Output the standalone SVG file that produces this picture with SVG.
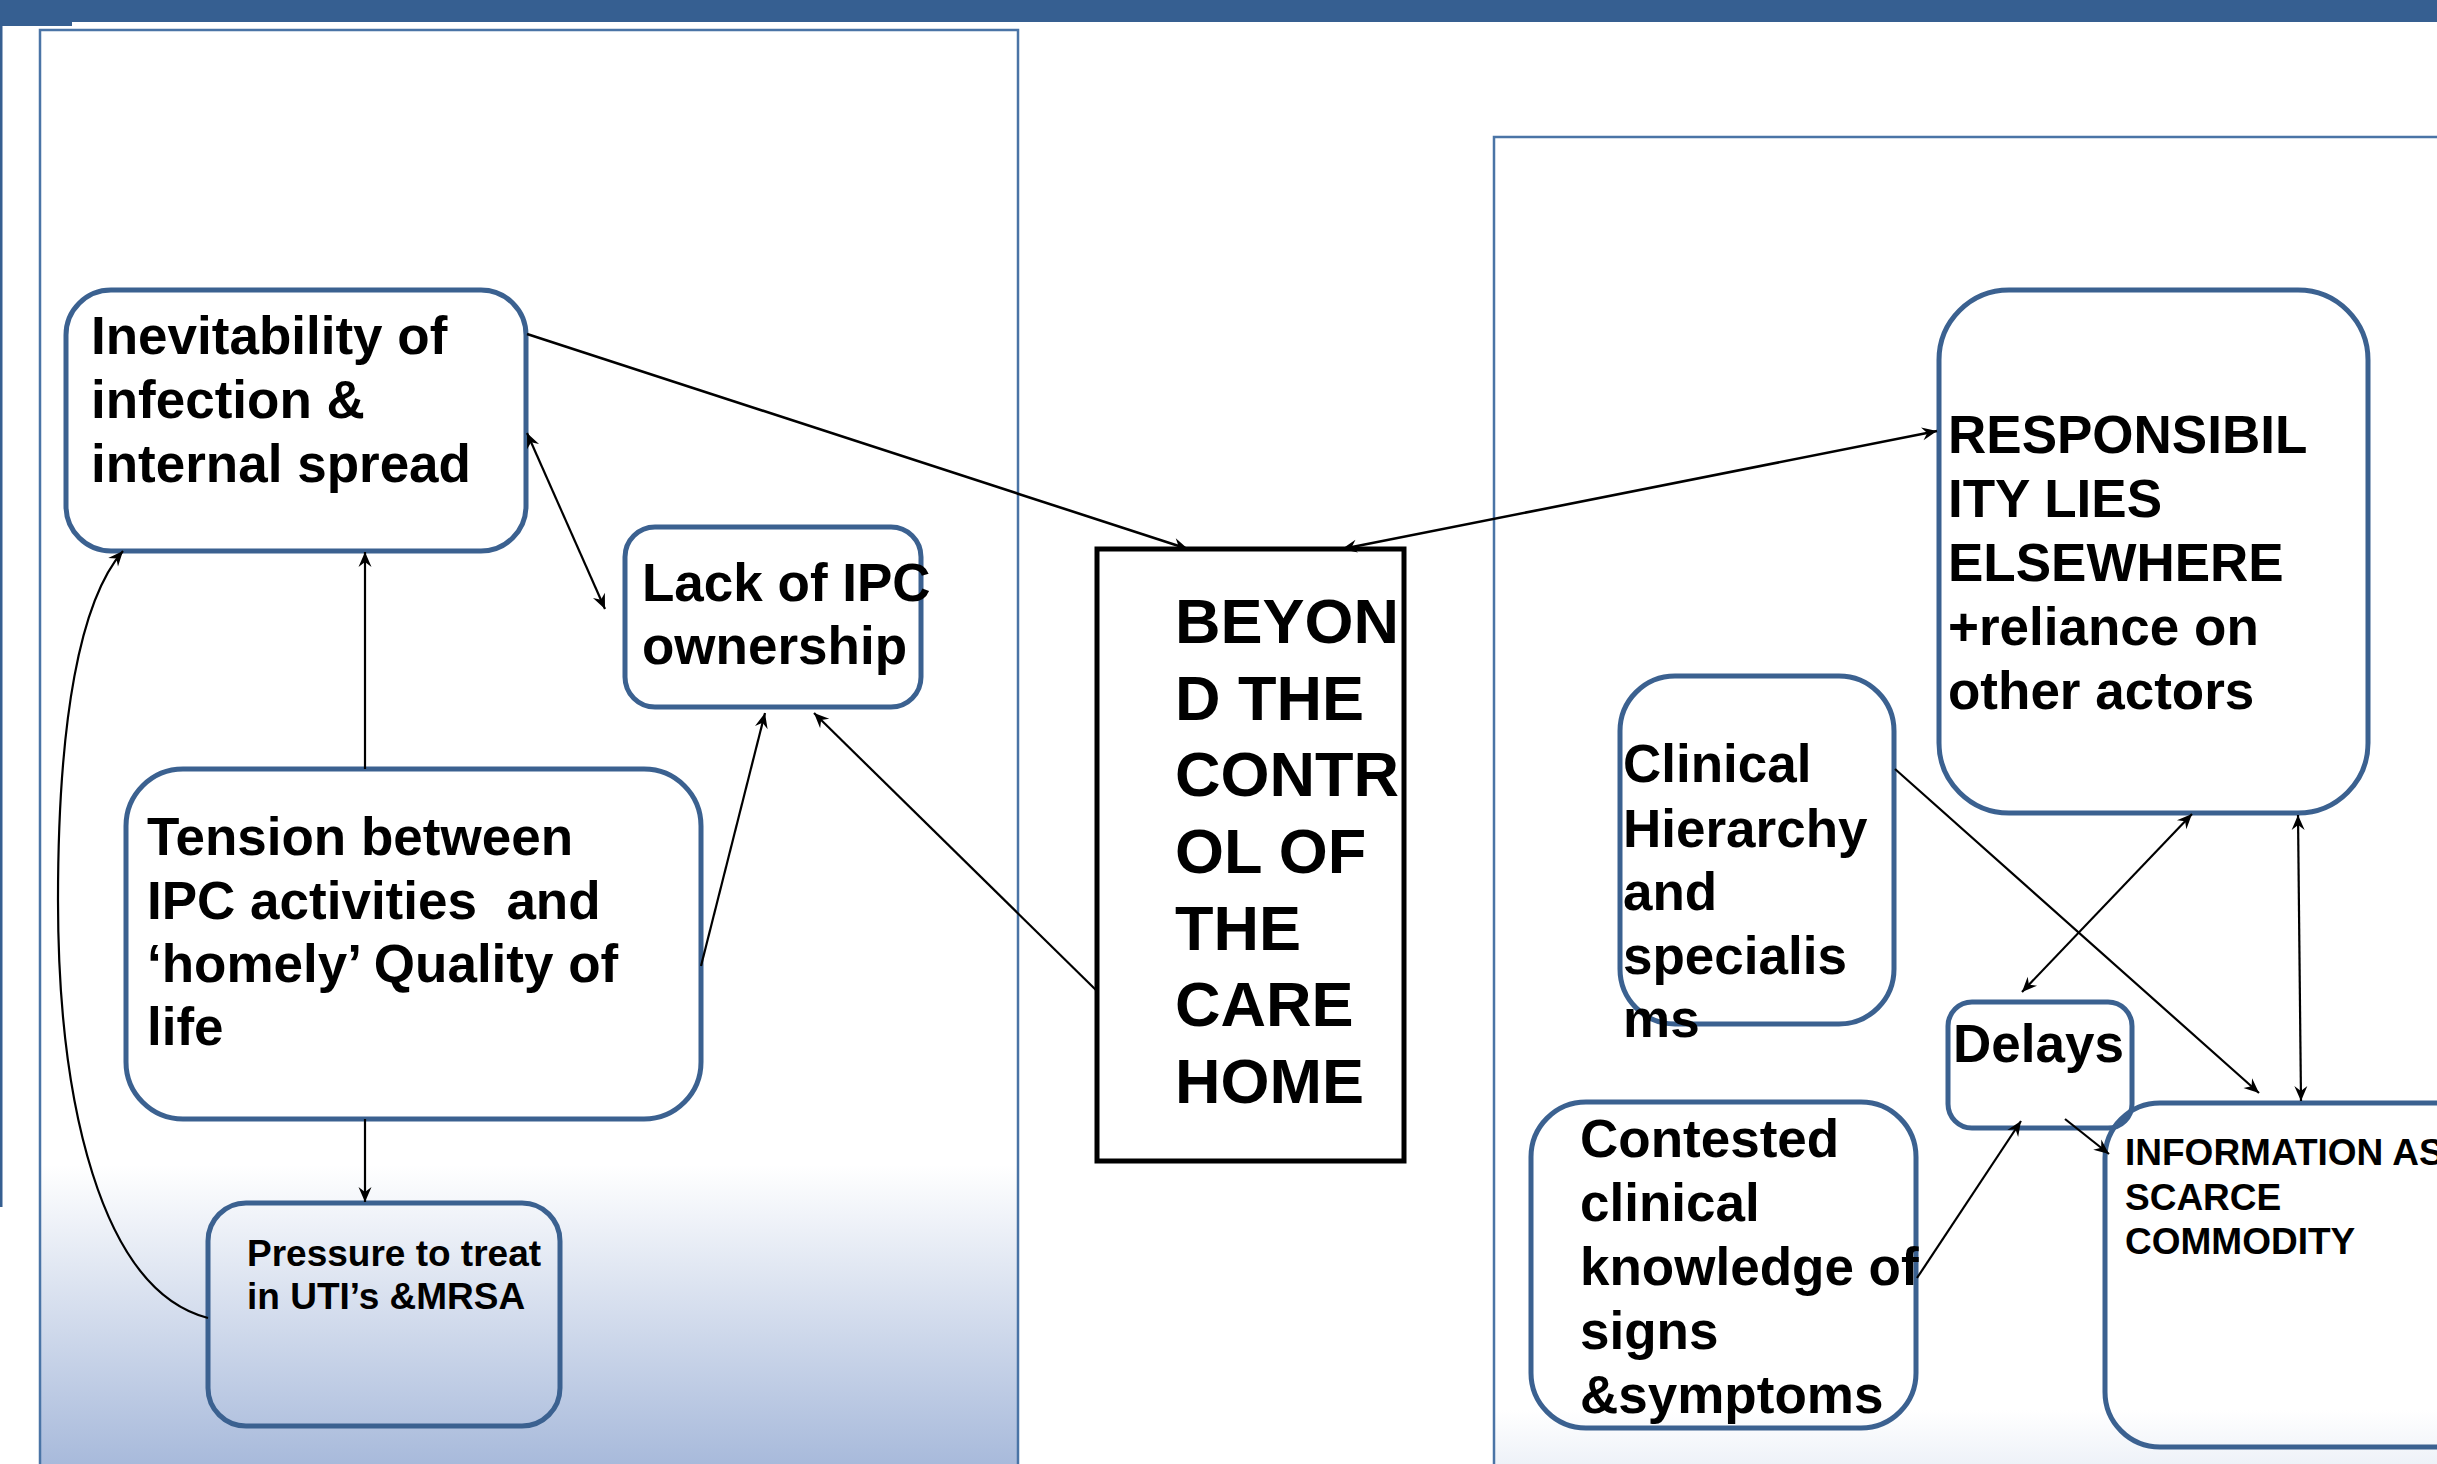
<svg xmlns="http://www.w3.org/2000/svg" width="2437" height="1464" viewBox="0 0 2437 1464">
  <style>
    .panel { stroke:#4a74a6; stroke-width:2.5; }
    .node { fill:none; stroke:#3b6190; stroke-width:5; }
    .core { fill:none; stroke:#000; stroke-width:5; }
    .lbl { font-family:"Liberation Sans", Arial, sans-serif; font-weight:bold; font-size:53px; fill:#000; white-space:pre; }
    .core-lbl { font-size:63px; }
    .small { font-size:37px; }
    .conn { fill:none; stroke:#000; stroke-width:2.2; }
    .conn-thick { stroke-width:2.6; }
  </style>
  <defs>
    <linearGradient id="leftFill" gradientUnits="userSpaceOnUse" x1="0" y1="1165" x2="0" y2="1464">
      <stop offset="0" stop-color="#ffffff"/>
      <stop offset="1" stop-color="#a8badb"/>
    </linearGradient>
    <linearGradient id="rightFill" gradientUnits="userSpaceOnUse" x1="0" y1="1410" x2="0" y2="1464">
      <stop offset="0" stop-color="#ffffff"/>
      <stop offset="1" stop-color="#eef2f8"/>
    </linearGradient>
    <marker id="ah" viewBox="-16 -8 17 16" refX="0" refY="0" markerWidth="17" markerHeight="16" markerUnits="userSpaceOnUse" orient="auto-start-reverse">
      <path d="M0,0 L-15,-6.5 L-10,0 L-15,6.5 Z" fill="#000"/>
    </marker>
  </defs>

  <!-- page furniture -->
  <rect x="0" y="0" width="2437" height="22" fill="#365f91"/>
  <rect x="0" y="0" width="72" height="26" fill="#365f91"/>
  <rect x="0" y="22" width="2.5" height="1185" fill="#365f91"/>

  <!-- panels -->
  <rect class="panel" x="40" y="30" width="978" height="1460" fill="url(#leftFill)"/>
  <rect class="panel" x="1494" y="137" width="1000" height="1400" fill="url(#rightFill)"/>

  <!-- nodes -->
  <g id="inevitability">
    <rect class="node" x="66" y="290" width="460" height="261" rx="45"/>
    <text class="lbl" x="91"><tspan x="91" y="354">Inevitability of</tspan><tspan x="91" y="418">infection &amp;</tspan><tspan x="91" y="482">internal spread</tspan></text>
  </g>
  <g id="lack-of-ipc">
    <rect class="node" x="625" y="527" width="296" height="180" rx="30"/>
    <text class="lbl" x="642"><tspan x="642" y="601">Lack of IPC</tspan><tspan x="642" y="664">ownership</tspan></text>
  </g>
  <g id="tension">
    <rect class="node" x="126" y="769" width="575" height="350" rx="57"/>
    <text class="lbl" x="147"><tspan x="147" y="855">Tension between</tspan><tspan x="147" y="919">IPC activities  and</tspan><tspan x="147" y="982">‘homely’ Quality of</tspan><tspan x="147" y="1045">life</tspan></text>
  </g>
  <g id="pressure">
    <rect class="node" x="208" y="1203" width="352" height="223" rx="38"/>
    <text class="lbl small" x="247"><tspan x="247" y="1266">Pressure to treat</tspan><tspan x="247" y="1309">in UTI’s &amp;MRSA</tspan></text>
  </g>
  <g id="beyond-control">
    <rect class="core" x="1097" y="549" width="307" height="612"/>
    <text class="lbl core-lbl" x="1175"><tspan x="1175" y="643">BEYON</tspan><tspan x="1175" y="720">D THE</tspan><tspan x="1175" y="796">CONTR</tspan><tspan x="1175" y="873">OL OF</tspan><tspan x="1175" y="950">THE</tspan><tspan x="1175" y="1026">CARE</tspan><tspan x="1175" y="1103">HOME</tspan></text>
  </g>
  <g id="responsibility">
    <rect class="node" x="1939" y="290" width="429" height="523" rx="70"/>
    <text class="lbl" x="1948"><tspan x="1948" y="453">RESPONSIBIL</tspan><tspan x="1948" y="517">ITY LIES</tspan><tspan x="1948" y="581">ELSEWHERE</tspan><tspan x="1948" y="645">+reliance on</tspan><tspan x="1948" y="709">other actors</tspan></text>
  </g>
  <g id="clinical-hierarchy">
    <rect class="node" x="1620" y="676" width="274" height="348" rx="55"/>
    <text class="lbl" x="1623"><tspan x="1623" y="782">Clinical</tspan><tspan x="1623" y="847">Hierarchy</tspan><tspan x="1623" y="910">and</tspan><tspan x="1623" y="974">specialis</tspan><tspan x="1623" y="1037">ms</tspan></text>
  </g>
  <g id="delays">
    <rect class="node" x="1948" y="1002" width="184" height="126" rx="24"/>
    <text class="lbl" x="1953" y="1062">Delays</text>
  </g>
  <g id="contested-knowledge">
    <rect class="node" x="1531" y="1102" width="385" height="326" rx="55"/>
    <text class="lbl" x="1580"><tspan x="1580" y="1157">Contested</tspan><tspan x="1580" y="1221">clinical</tspan><tspan x="1580" y="1285">knowledge of</tspan><tspan x="1580" y="1349">signs</tspan><tspan x="1580" y="1413">&amp;symptoms</tspan></text>
  </g>
  <g id="information">
    <rect class="node" x="2105" y="1103" width="400" height="344" rx="55"/>
    <text class="lbl small" x="2125"><tspan x="2125" y="1165">INFORMATION AS</tspan><tspan x="2125" y="1210">SCARCE</tspan><tspan x="2125" y="1254">COMMODITY</tspan></text>
  </g>

  <!-- connectors -->
  <g id="connectors">
    <path class="conn conn-thick" d="M527,334 L1188,549" marker-end="url(#ah)"/>
    <path class="conn conn-thick" d="M1342,549 L1937,431" marker-start="url(#ah)" marker-end="url(#ah)"/>
    <path class="conn" d="M527,433 L605,609" marker-start="url(#ah)" marker-end="url(#ah)"/>
    <path class="conn" d="M365,769 L365,552" marker-end="url(#ah)"/>
    <path class="conn" d="M365,1119 L365,1202" marker-end="url(#ah)"/>
    <path class="conn" d="M701,966 L765,713" marker-end="url(#ah)"/>
    <path class="conn" d="M1097,991 L814,713" marker-end="url(#ah)"/>
    <path class="conn" d="M208,1318 C100,1290 58,1100 58,900 C58,720 80,600 123,551" marker-end="url(#ah)"/>
    <path class="conn" d="M1895,769 L2259,1093" marker-end="url(#ah)"/>
    <path class="conn" d="M2192,814 L2022,992" marker-start="url(#ah)" marker-end="url(#ah)"/>
    <path class="conn" d="M2298,815 L2301,1101" marker-start="url(#ah)" marker-end="url(#ah)"/>
    <path class="conn" d="M1917,1278 L2021,1121" marker-end="url(#ah)"/>
    <path class="conn" d="M2065,1119 L2109,1154" marker-end="url(#ah)"/>
  </g>
</svg>
